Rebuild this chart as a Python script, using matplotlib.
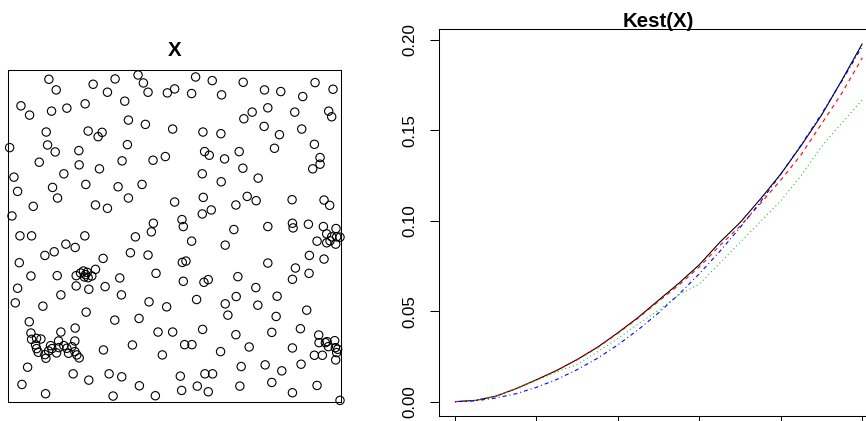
import matplotlib
matplotlib.use("Agg")
import matplotlib.pyplot as plt
import numpy as np

plt.rcParams['font.family'] = ['Liberation Sans', 'DejaVu Sans']
plt.rcParams['lines.scale_dashes'] = False

# ---- point pattern X (unit square window) ----
pts_x = [0.122,0.144,0.255,0.321,0.390,0.406,0.420,0.298,0.478,0.500,
         0.038,0.064,0.130,0.176,0.231,0.350,0.361,0.412,0.494,0.114,
         0.240,0.282,0.270,0.004,0.118,0.141,0.212,0.358,0.093,0.213,
         0.274,0.342,0.435,0.472,0.017,0.167,0.028,0.133,0.233,0.330,
         0.402,0.148,0.361,0.075,0.262,0.298,0.500,0.011,0.436,0.430,
         0.522,0.526,0.035,0.070,0.230,0.382,
         0.563,0.613,0.706,0.551,0.641,0.770,0.819,0.922,0.976,0.885,
         0.708,0.733,0.780,0.861,0.963,0.972,0.585,0.639,0.769,0.815,
         0.882,0.590,0.604,0.650,0.694,0.800,0.920,0.937,0.937,0.915,
         0.583,0.705,0.751,0.640,0.586,0.583,0.610,0.684,0.718,0.745,
         0.853,0.949,0.966,0.678,0.780,0.854,0.856,0.902,0.947,0.985,
         0.957,0.972,0.987,0.997,0.928,0.957,0.967,0.984,
         0.551,0.652,0.905,0.949,0.523,0.534,0.780,0.863,0.904,0.526,
         0.588,0.601,0.690,0.854,0.744,0.566,0.652,0.685,0.750,0.808,
         0.660,0.805,0.897,0.494,0.584,0.684,0.792,0.878,0.530,0.552,
         0.638,0.724,0.854,
         0.933,0.934,0.953,0.958,0.962,0.981,0.983,0.987,0.990,0.920,0.944,0.984,
         0.700,0.772,0.822,0.880,0.517,0.591,0.614,0.521,0.568,0.601,0.696,0.792,0.854,0.928,0.997,
         0.173,0.201,0.110,0.138,0.367,0.420,0.285,0.033,0.068,0.147,
         0.204,0.217,0.226,0.232,0.237,0.240,0.251,0.262,0.229,
         0.335,0.444,0.028,0.204,0.242,0.291,0.158,0.340,0.021,0.104,
         0.423,0.476,0.234,0.320,0.393,0.063,0.158,0.201,0.450,
         0.068,0.070,0.085,0.098,0.082,0.085,0.090,0.110,0.113,0.121,0.127,0.131,
         0.145,0.151,0.152,0.167,0.176,0.181,0.191,0.200,0.200,0.206,0.213,
         0.286,0.373,0.463,0.058,0.195,0.242,0.303,0.341,0.041,0.394,0.112,0.315,0.442]
pts_y = [0.972,0.940,0.957,0.973,0.985,0.961,0.933,0.933,0.931,0.943,
         0.892,0.864,0.876,0.885,0.898,0.906,0.849,0.836,0.822,0.813,
         0.816,0.812,0.799,0.766,0.774,0.753,0.757,0.775,0.722,0.714,
         0.702,0.726,0.728,0.739,0.677,0.687,0.634,0.646,0.655,0.648,
         0.655,0.614,0.614,0.589,0.593,0.583,0.602,0.560,0.538,0.512,
         0.549,0.528,0.500,0.500,0.500,0.497,
         0.979,0.968,0.963,0.929,0.925,0.940,0.935,0.962,0.942,0.920,
         0.853,0.873,0.886,0.873,0.876,0.859,0.813,0.808,0.830,0.805,
         0.822,0.754,0.743,0.732,0.754,0.764,0.776,0.736,0.716,0.702,
         0.687,0.704,0.674,0.663,0.616,0.566,0.578,0.593,0.619,0.606,
         0.609,0.608,0.592,0.519,0.528,0.538,0.524,0.535,0.528,0.522,
         0.506,0.497,0.497,0.496,0.484,0.479,0.485,0.475,
         0.484,0.472,0.441,0.430,0.420,0.424,0.418,0.403,0.387,0.363,
         0.360,0.368,0.377,0.369,0.344,0.308,0.295,0.317,0.291,0.318,
         0.261,0.257,0.276,0.210,0.218,0.202,0.209,0.220,0.172,0.172,
         0.151,0.165,0.162,
         0.201,0.178,0.178,0.181,0.166,0.184,0.163,0.148,0.158,0.140,0.140,0.126,
         0.106,0.111,0.093,0.113,0.077,0.084,0.084,0.034,0.047,0.030,0.047,0.058,0.027,0.049,0.004,
         0.475,0.465,0.441,0.452,0.449,0.442,0.432,0.419,0.379,0.380,
         0.380,0.388,0.394,0.383,0.390,0.374,0.379,0.399,0.376,
         0.373,0.387,0.342,0.349,0.339,0.347,0.322,0.322,0.298,0.288,
         0.301,0.286,0.270,0.246,0.251,0.241,0.210,0.222,0.210,
         0.207,0.188,0.191,0.189,0.171,0.160,0.149,0.142,0.131,0.153,0.169,0.160,
         0.147,0.183,0.163,0.169,0.161,0.146,0.166,0.183,0.151,0.141,0.132,
         0.156,0.171,0.141,0.104,0.084,0.065,0.084,0.075,0.052,0.048,0.024,0.017,0.018]

# ---- Kest(X) estimates ----
r_vals = [0.0, 0.0125, 0.025, 0.0375, 0.05, 0.0625, 0.075, 0.0875, 0.1, 0.1125,
          0.125, 0.1375, 0.15, 0.1625, 0.175, 0.1875, 0.2, 0.2125, 0.225, 0.2375, 0.25]
K_iso = [0.0, 0.0007, 0.0030, 0.0072, 0.0121, 0.0173, 0.0233, 0.0301, 0.0381, 0.0466,
         0.0561, 0.0655, 0.0757, 0.0880, 0.0990, 0.1120, 0.1258, 0.1415, 0.1583, 0.1777, 0.1978]
K_trans = [0.0, 0.0007, 0.0030, 0.0072, 0.0121, 0.0172, 0.0232, 0.0299, 0.0378, 0.0462,
           0.0555, 0.0645, 0.0745, 0.0862, 0.0970, 0.1095, 0.1225, 0.1365, 0.1535, 0.1705, 0.1900]
K_border = [0.0, 0.0007, 0.0030, 0.0071, 0.0118, 0.0165, 0.0205, 0.0276, 0.0348, 0.0430,
            0.0506, 0.0590, 0.0650, 0.0765, 0.0880, 0.0995, 0.1110, 0.1250, 0.1410, 0.1540, 0.1668]
K_theo = [0.0, 0.0005, 0.0020, 0.0044, 0.0079, 0.0123, 0.0177, 0.0240, 0.0314, 0.0398,
          0.0491, 0.0594, 0.0707, 0.0830, 0.0962, 0.1104, 0.1257, 0.1419, 0.1590, 0.1772, 0.1963]
r_ticks = [0.0, 0.05, 0.10, 0.15, 0.20, 0.25]
k_ticks = [0.0, 0.05, 0.10, 0.15, 0.20]
k_tick_labels = ["0.00", "0.05", "0.10", "0.15", "0.20"]

W, H = 866, 421
fig = plt.figure(figsize=(W / 100, H / 100), dpi=100)

# ---- left: point pattern ----
ax1 = fig.add_axes([8.3 / W, (H - 401.7) / H, 332.7 / W, 331.7 / H])
ax1.scatter(pts_x, pts_y, s=6.0 ** 2, facecolors='none', edgecolors='black',
            linewidths=0.8, clip_on=False, zorder=3)
ax1.set_xlim(0, 1)
ax1.set_ylim(0, 1)
ax1.set_xticks([])
ax1.set_yticks([])
for sp in ax1.spines.values():
    sp.set_linewidth(0.75)
    sp.set_color('black')
ax1.annotate("X", xy=(0.5, 1), xycoords='axes fraction', xytext=(0, 14.2),
             textcoords='offset points', ha='center', va='center',
             fontsize=14.7, fontweight='bold')

# ---- right: K function ----
ax2 = fig.add_axes([438.7 / W, (H - 416.0) / H, 439.9 / W, 386.7 / H])
ax2.plot(r_vals, K_iso, color='black', lw=0.8, solid_capstyle='butt')
ax2.plot(r_vals, K_trans, color='red', lw=0.8, dashes=(2.9, 2.9))
ax2.plot(r_vals, K_border, color='#00CD00', lw=0.8, dashes=(0.72, 2.16))
ax2.plot(r_vals, K_theo, color='blue', lw=0.8, dashes=(0.72, 2.16, 2.88, 2.16))

allk = K_iso + K_trans + K_border + K_theo
kmin, kmax = min(allk), max(allk)
rmin, rmax = min(r_vals), max(r_vals)
ax2.set_xlim(rmin - 0.04 * (rmax - rmin), rmax + 0.04 * (rmax - rmin))
ax2.set_ylim(kmin - 0.04 * (kmax - kmin), kmax + 0.04 * (kmax - kmin))
ax2.set_xticks(r_ticks)
ax2.set_xticklabels([])
ax2.set_yticks(k_ticks)
ax2.set_yticklabels(k_tick_labels, rotation=90, va='center')
ax2.tick_params(axis='both', direction='out', length=6.5, width=0.75,
                labelsize=12.2, pad=9.1, colors='black')
for sp in ax2.spines.values():
    sp.set_linewidth(0.75)
    sp.set_color('black')
ax2.annotate("Kest(X)", xy=(0.5, 1), xycoords='axes fraction', xytext=(0, 5.5),
             textcoords='offset points', ha='center', va='center',
             fontsize=14.7, fontweight='bold')

fig.savefig("out.png", dpi=100)
